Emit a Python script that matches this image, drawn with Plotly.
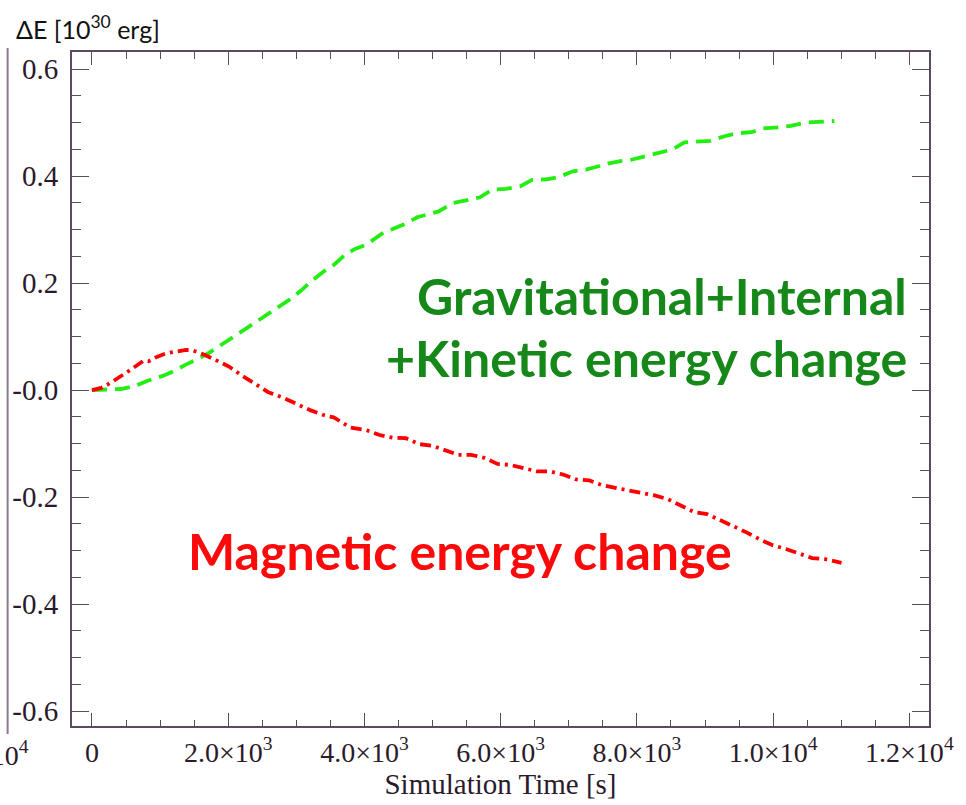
import plotly.graph_objects as go

# Energy-change curves (time in s, energy in 1e30 erg)
t_grav = [0, 183, 424, 616, 808, 1049, 1193, 1385, 1554, 1723, 1890, 2083, 2251, 2395,
          2564, 2756, 2900, 3069, 3213, 3405, 3549, 3718, 3862, 4031, 4199, 4295, 4415,
          4584, 4776, 4944, 5089, 5305, 5522, 5690, 5882, 6074, 6291, 6460, 6676, 6845,
          7061, 7253, 7398, 7589, 7758, 7902, 8118, 8311, 8527, 8696, 8912, 9081, 9273,
          9465, 9681, 9850, 10066, 10258, 10475, 10668, 10899]
e_grav = [0.000, 0.001, 0.002, 0.007, 0.017, 0.027, 0.035, 0.048, 0.058, 0.070, 0.083,
          0.100, 0.114, 0.126, 0.140, 0.157, 0.169, 0.186, 0.203, 0.222, 0.234, 0.253,
          0.264, 0.272, 0.287, 0.296, 0.301, 0.310, 0.323, 0.329, 0.334, 0.350, 0.355,
          0.360, 0.375, 0.376, 0.381, 0.393, 0.394, 0.398, 0.409, 0.412, 0.417, 0.424,
          0.428, 0.430, 0.437, 0.444, 0.450, 0.463, 0.465, 0.466, 0.474, 0.480, 0.482,
          0.489, 0.491, 0.494, 0.500, 0.502, 0.503]

t_mag = [0, 136, 280, 424, 568, 760, 833, 952, 1097, 1241, 1385, 1482, 1651, 1818, 2011,
         2203, 2395, 2588, 2780, 2972, 3213, 3454, 3549, 3790, 4031, 4223, 4415, 4608,
         4800, 4992, 5185, 5377, 5569, 5762, 5954, 6146, 6340, 6532, 6723, 6917, 7109,
         7301, 7494, 7686, 7878, 8071, 8263, 8455, 8648, 8840, 9032, 9225, 9417, 9609,
         9802, 9994, 10186, 10379, 10571, 10763, 11004]
e_mag = [0.000, 0.004, 0.014, 0.027, 0.038, 0.055, 0.054, 0.062, 0.069, 0.072, 0.075,
         0.074, 0.066, 0.056, 0.044, 0.027, 0.011, -0.004, -0.013, -0.024, -0.038, -0.049,
         -0.051, -0.070, -0.075, -0.084, -0.089, -0.090, -0.101, -0.104, -0.112, -0.121,
         -0.121, -0.127, -0.138, -0.140, -0.146, -0.152, -0.152, -0.158, -0.167, -0.169,
         -0.178, -0.183, -0.188, -0.192, -0.197, -0.204, -0.216, -0.228, -0.232, -0.243,
         -0.254, -0.266, -0.279, -0.290, -0.297, -0.306, -0.314, -0.316, -0.323]

x_tickvals = [0, 2000, 4000, 6000, 8000, 10000, 12000]
x_ticktext = ["0", "2.0×10<sup>3</sup>", "4.0×10<sup>3</sup>", "6.0×10<sup>3</sup>",
              "8.0×10<sup>3</sup>", "1.0×10<sup>4</sup>", "1.2×10<sup>4</sup>"]
y_tickvals = [0.6, 0.4, 0.2, 0.0, -0.2, -0.4, -0.6]
y_ticktext = ["0.6", "0.4", "0.2", "-0.0", "-0.2", "-0.4", "-0.6"]

X_RANGE = [-293, 12288]
Y_RANGE = [-0.628, 0.632]

W, H = 966, 805
ML, MR, MT, MB = 67, 27, 52, 73
PW, PH = W - ML - MR, H - MT - MB

AXIS_COLOR = "#5b4b5e"
LABEL_COLOR = "#2b1a2b"
SERIF = "Liberation Serif, Times New Roman, serif"
SANS = "Lato, Carlito, Calibri, sans-serif"


def px_x(p):
    return (p - ML) / PW


def px_y(p):
    return (H - MB - p) / PH


fig = go.Figure()

fig.add_trace(go.Scatter(
    x=t_grav, y=e_grav, mode="lines",
    line=dict(color="#22ee11", width=3.8, dash="15px,8px"),
    showlegend=False, hoverinfo="skip",
))
fig.add_trace(go.Scatter(
    x=t_mag, y=e_mag, mode="lines",
    line=dict(color="#ff0000", width=3.8, dash="11px,5px,3px,5px"),
    showlegend=False, hoverinfo="skip",
))
# empty trace so the mirrored top/right axes are drawn
fig.add_trace(go.Scatter(x=[None], y=[None], xaxis="x2", yaxis="y2",
                         showlegend=False, hoverinfo="skip"))

tick_common = dict(ticks="inside", tickcolor=AXIS_COLOR, tickwidth=1.3,
                   showline=True, linecolor=AXIS_COLOR, linewidth=2,
                   showgrid=False, zeroline=False)

fig.update_layout(
    width=W, height=H,
    margin=dict(l=ML, r=MR, t=MT, b=MB, pad=0),
    paper_bgcolor="white", plot_bgcolor="white",
    xaxis=dict(range=X_RANGE, tickmode="array", tickvals=x_tickvals, ticktext=x_ticktext,
               ticklen=13,
               minor=dict(ticks="inside", ticklen=6.5, dtick=500, tick0=0,
                          tickcolor=AXIS_COLOR, tickwidth=1.3),
               tickfont=dict(family=SERIF, size=28, color=LABEL_COLOR),
               title=dict(text="Simulation Time [s]", standoff=5,
                          font=dict(family=SERIF, size=29, color=LABEL_COLOR)),
               **tick_common),
    yaxis=dict(range=Y_RANGE, tickmode="array", tickvals=y_tickvals, ticktext=y_ticktext,
               ticklen=17,
               minor=dict(ticks="inside", ticklen=9, dtick=0.05, tick0=0,
                          tickcolor=AXIS_COLOR, tickwidth=1.3),
               tickfont=dict(family=SERIF, size=29, color=LABEL_COLOR),
               ticklabelstandoff=6,
               **tick_common),
    xaxis2=dict(range=X_RANGE, overlaying="x", side="top", anchor="y",
                tickmode="array", tickvals=x_tickvals, showticklabels=False,
                ticklen=13,
                minor=dict(ticks="inside", ticklen=6.5, dtick=500, tick0=0,
                           tickcolor=AXIS_COLOR, tickwidth=1.3),
                **tick_common),
    yaxis2=dict(range=Y_RANGE, overlaying="y", side="right", anchor="x",
                tickmode="array", tickvals=y_tickvals, showticklabels=False,
                ticklen=17,
                minor=dict(ticks="inside", ticklen=9, dtick=0.05, tick0=0,
                           tickcolor=AXIS_COLOR, tickwidth=1.3),
                **tick_common),
)

annotations = [
    dict(text="ΔE [10<sup>30</sup> erg]", x=px_x(8), y=px_y(27),
         xanchor="left", yanchor="middle",
         font=dict(family=SANS, size=25, color="#111111")),
    dict(text="<b>Gravitational+Internal</b>", x=px_x(919), y=px_y(298),
         xanchor="right", yanchor="middle",
         font=dict(family=SANS, size=50, color="#16881a")),
    dict(text="<b>+Kinetic energy change</b>", x=px_x(919), y=px_y(361),
         xanchor="right", yanchor="middle",
         font=dict(family=SANS, size=50, color="#16881a")),
    dict(text="<b>Magnetic energy change</b>", x=px_x(462), y=px_y(555),
         xanchor="center", yanchor="middle",
         font=dict(family=SANS, size=50, color="#fa0a0a")),
    # edge of the neighbouring panel's last x label
    dict(text="1.2×10<sup>4</sup>", x=px_x(25), y=px_y(760),
         xanchor="right", yanchor="middle",
         font=dict(family=SERIF, size=28, color=LABEL_COLOR)),
]
for a in annotations:
    a.update(xref="paper", yref="paper", showarrow=False)
fig.update_layout(annotations=annotations)

# right frame edge of the neighbouring panel
fig.add_shape(type="line", xref="paper", yref="paper",
              x0=px_x(1.5), x1=px_x(1.5), y0=px_y(48), y1=px_y(740),
              line=dict(color="#8a7a90", width=2))

fig.write_html("out.html")
